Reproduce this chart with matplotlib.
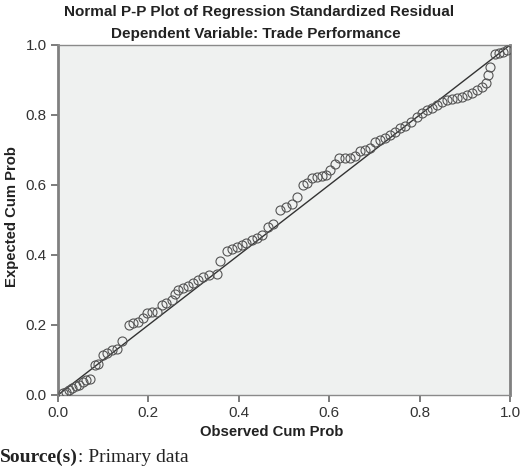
import matplotlib
matplotlib.use("Agg")
import matplotlib.pyplot as plt

# Observed cumulative probability (x) and expected cumulative probability (y)
observed = [0.010, 0.018, 0.025, 0.032, 0.040, 0.047, 0.056, 0.063, 0.070, 0.082, 0.089,
            0.100, 0.108, 0.119, 0.130, 0.141, 0.156, 0.167, 0.178, 0.187, 0.196, 0.207,
            0.218, 0.229, 0.240, 0.252, 0.259, 0.266, 0.277, 0.288, 0.299, 0.310, 0.321,
            0.333, 0.351, 0.358, 0.373, 0.384, 0.395, 0.406, 0.417, 0.429, 0.440, 0.451,
            0.465, 0.476, 0.491, 0.504, 0.517, 0.528, 0.543, 0.550, 0.561, 0.572, 0.583,
            0.594, 0.602, 0.613, 0.622, 0.635, 0.646, 0.657, 0.668, 0.679, 0.690, 0.701,
            0.712, 0.723, 0.735, 0.746, 0.757, 0.768, 0.780, 0.794, 0.805, 0.816, 0.827,
            0.838, 0.849, 0.860, 0.871, 0.882, 0.893, 0.904, 0.915, 0.926, 0.937, 0.947,
            0.952, 0.956, 0.967, 0.976, 0.985, 0.993]
expected = [0.005, 0.010, 0.015, 0.020, 0.025, 0.030, 0.038, 0.042, 0.045, 0.086, 0.090,
            0.114, 0.119, 0.129, 0.131, 0.155, 0.200, 0.205, 0.210, 0.219, 0.233, 0.238,
            0.238, 0.257, 0.262, 0.271, 0.290, 0.300, 0.306, 0.311, 0.319, 0.329, 0.336,
            0.343, 0.346, 0.384, 0.412, 0.416, 0.422, 0.429, 0.433, 0.443, 0.450, 0.457,
            0.481, 0.490, 0.529, 0.536, 0.547, 0.567, 0.600, 0.605, 0.621, 0.624, 0.626,
            0.630, 0.643, 0.659, 0.676, 0.676, 0.678, 0.684, 0.697, 0.700, 0.707, 0.724,
            0.729, 0.735, 0.743, 0.752, 0.762, 0.768, 0.779, 0.793, 0.805, 0.814, 0.819,
            0.829, 0.838, 0.843, 0.845, 0.848, 0.852, 0.857, 0.864, 0.871, 0.881, 0.892,
            0.914, 0.938, 0.974, 0.978, 0.981, 0.986]
ref_line = [0.0, 1.0]
ticks = [0.0, 0.2, 0.4, 0.6, 0.8, 1.0]
tick_labels = ["0.0", "0.2", "0.4", "0.6", "0.8", "1.0"]

title1 = "Normal P-P Plot of Regression Standardized Residual"
title2 = "Dependent Variable: Trade Performance"
xlabel = "Observed Cum Prob"
ylabel = "Expected Cum Prob"

plt.rcParams['font.family'] = ['Liberation Sans', 'DejaVu Sans']

fig = plt.figure(figsize=(5.2, 4.7), dpi=100)
ax = fig.add_axes([58/520, 75/470, 452/520, 350/470])
ax.set_facecolor('#eff1f0')

ax.plot(ref_line, ref_line, color='#333333', lw=1.0, zorder=2)
ax.plot(observed, expected, linestyle='none', marker='o', markersize=6.5,
        markerfacecolor='none', markeredgecolor='#555555', markeredgewidth=0.8, zorder=3)

ax.set_xlim(0, 1)
ax.set_ylim(0, 1)
ax.set_xticks(ticks)
ax.set_xticklabels(tick_labels)
ax.set_yticks(ticks)
ax.set_yticklabels(tick_labels)
ax.tick_params(axis='both', direction='out', length=5, width=1.2, color='#666666',
               labelsize=11, labelcolor='#333333', pad=3)

for side in ['left', 'right']:
    ax.spines[side].set_linewidth(2.0)
    ax.spines[side].set_color('#808080')
for side in ['top', 'bottom']:
    ax.spines[side].set_linewidth(1.0)
    ax.spines[side].set_color('#8a8a8a')

ax.set_xlabel(xlabel, fontsize=10.7, fontweight='bold', color='#222222')
ax.xaxis.set_label_coords((272 - 58) / 452, -(432 - 395) / 350)
ax.xaxis.label.set_va('center')
ax.set_ylabel(ylabel, fontsize=10.7, fontweight='bold', color='#222222')
ax.yaxis.set_label_coords(-(58 - 12) / 452, (395 - 217) / 350)
ax.yaxis.label.set_va('center')

fig.text(259/520, 1 - 12/470, title1, ha='center', va='center', fontsize=11,
         fontweight='bold', color='#222222')
fig.text(256/520, 1 - 34/470, title2, ha='center', va='center', fontsize=11,
         fontweight='bold', color='#222222')

t1 = fig.text(0/520, 1 - 457/470, "Source(s)", ha='left', va='center', fontsize=14,
              fontweight='bold', family='Liberation Serif', color='#222222')
fig.canvas.draw()
bb = t1.get_window_extent()
fig.text(bb.x1 / fig.bbox.width, 1 - 457/470, ": Primary data", ha='left', va='center',
         fontsize=14, family='Liberation Serif', color='#222222')

fig.savefig('out.png', dpi=100)
